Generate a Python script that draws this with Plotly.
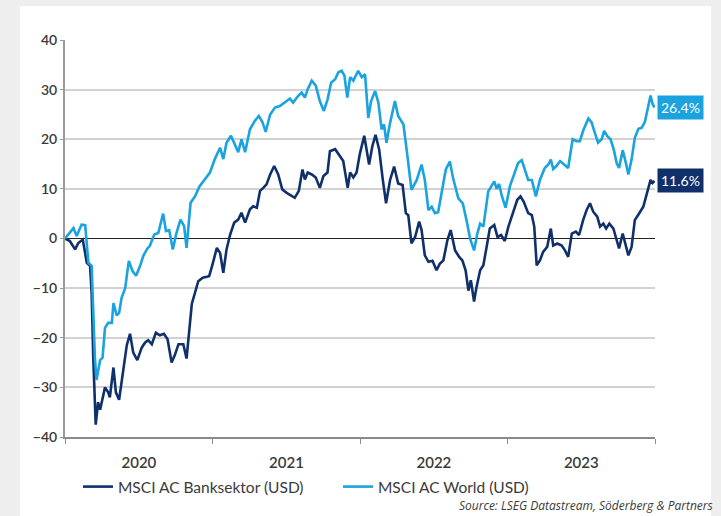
import pandas as pd
import plotly.graph_objects as go

# day offsets from 2020-01-01 and index change in percent
world_days = [0, 8, 21, 29, 41, 50, 58, 66, 74, 78, 87, 93, 99, 107, 116, 120, 128, 134, 140, 149,
              158, 167, 176, 186, 194, 204, 210, 221, 231, 243, 250, 258, 267, 276, 286, 295, 301, 311,
              322, 333, 342, 347, 359, 371, 384, 392, 400, 411, 419, 429, 437, 446, 458, 470, 480, 489,
              497, 508, 520, 532, 549, 557, 565, 576, 586, 594, 601, 611, 621, 631, 641, 650, 659, 669,
              677, 685, 692, 699, 706, 714, 726, 735, 743, 751, 758, 768, 776, 784, 790, 796, 805, 817,
              825, 838, 846, 858, 871, 883, 891, 900, 908, 916, 924, 933, 943, 953, 961, 974, 985, 995,
              1003, 1013, 1021, 1028, 1036, 1048, 1057, 1063, 1069, 1075, 1081, 1091, 1102, 1111, 1122,
              1131, 1139, 1147, 1156, 1166, 1176, 1188, 1197, 1203, 1209, 1217, 1226, 1235, 1246, 1257,
              1267, 1275, 1283, 1296, 1304, 1312, 1320, 1329, 1335, 1343, 1351, 1359, 1366, 1372, 1381,
              1389, 1395, 1403, 1411, 1420, 1428, 1436, 1444, 1450, 1455, 1460]
world_vals = [0, 0.8, 2.1, 0.5, 2.8, 2.7, -4.9, -5.5, -24, -28.5, -24.5, -24, -18, -17, -17, -13, -15.5,
              -15, -12, -10, -4.5, -6.5, -7.5, -5.5, -3.5, -2, -1.5, 0.8, 1.1, 5, 1.5, 1.7, -2.2, 1.1, 3.8,
              2.5, -1.9, 7.2, 8.5, 10.5, 11.5, 12.2, 13.3, 16, 18.3, 16, 19.3, 20.7, 19.3, 17.4, 20, 17.4,
              22, 23.7, 24.7, 23.4, 21.5, 25, 26.4, 26.7, 27.7, 28.2, 27.4, 28.6, 29.4, 28.4, 30.1, 31.8,
              30.8, 27.7, 25.7, 28, 31.4, 32.1, 33.5, 33.8, 32.8, 28.4, 32.5, 31.8, 33.8, 32.5, 33.1, 24.3,
              27.7, 29.7, 27.4, 22, 23, 19.3, 23.3, 27.7, 24.7, 23, 17.9, 9.8, 11.8, 14.9, 11.8, 5.7, 6.4,
              5.1, 5.3, 9.8, 13.9, 15.5, 12.2, 8.1, 7.1, 3.4, 0, -2.4, 1, 3, 2.4, 9.5, 10.8, 11.5, 10, 11,
              8.8, 6.2, 10.6, 12.5, 15.2, 15.8, 13.9, 11.8, 11.8, 8.5, 11.8, 14.2, 14.9, 15.9, 14, 14.6,
              15.6, 14.9, 14.2, 20, 19.6, 19.6, 21.7, 24.2, 23.4, 21.3, 19.3, 20, 21.7, 20.6, 20, 17.9,
              15.2, 14.2, 17.8, 15.2, 12.9, 15.9, 20.3, 22.1, 22.3, 23.5, 26.7, 28.8, 27.1, 26.4]

bank_days = [0, 12, 25, 33, 44, 54, 62, 66, 70, 76, 82, 87, 91, 99, 107, 111, 120, 126, 134, 144, 153,
             161, 169, 179, 190, 198, 206, 215, 225, 235, 245, 254, 264, 272, 281, 293, 301, 314, 322,
             330, 341, 347, 357, 365, 376, 384, 392, 400, 409, 419, 429, 437, 446, 458, 466, 475, 483,
             491, 499, 508, 518, 528, 538, 549, 560, 569, 579, 588, 594, 601, 611, 621, 631, 640, 650,
             656, 669, 678, 689, 700, 706, 714, 722, 730, 741, 753, 761, 769, 778, 787, 795, 805, 815,
             825, 836, 844, 850, 858, 867, 877, 883, 891, 900, 910, 920, 928, 937, 947, 955, 966, 976,
             984, 992, 999, 1005, 1013, 1019, 1028, 1036, 1044, 1052, 1063, 1071, 1080, 1089, 1098, 1110,
             1120, 1128, 1136, 1147, 1156, 1162, 1168, 1176, 1184, 1194, 1203, 1209, 1219, 1230, 1238,
             1246, 1255, 1265, 1273, 1283, 1292, 1300, 1308, 1318, 1325, 1333, 1340, 1348, 1358, 1366,
             1372, 1381, 1389, 1395, 1403, 1411, 1422, 1432, 1441, 1450, 1455, 1460]
bank_vals = [0, -0.5, -2.2, -0.9, -0.2, -4.9, -5.5, -11, -24, -37.5, -33, -34.5, -33, -30, -31, -32, -26,
             -31, -32.5, -26.5, -21.5, -19.2, -23, -24.5, -22, -21, -20.5, -21.3, -19, -19.5, -19.2, -20.3,
             -25, -23.5, -21.3, -21.3, -24.2, -13.2, -11, -8.6, -7.9, -7.8, -7.6, -5.3, -1.9, -2.9, -6.9,
             -2.2, 0.8, 3.2, 3.8, 5.2, 3.2, 5.9, 6.5, 6.2, 9.6, 10.2, 10.9, 12.9, 14.6, 12.9, 9.9, 9.2, 8.6,
             8.2, 9.6, 13.9, 11.9, 13.3, 12.9, 12.3, 10.2, 12.6, 13.3, 17.6, 18, 17, 15.6, 10.2, 13.3, 12.3,
             13.3, 17, 20.7, 14.9, 18.6, 20.9, 17.9, 11.8, 7.1, 11.8, 14.5, 11.1, 10.8, 5.1, 4.7, -1, 0.3,
             3.4, 1.7, -3.4, -4.7, -4.5, -6.4, -5.1, -4.4, -0.3, 1.7, -2.4, -3.7, -4.4, -6.4, -10.5, -8.4,
             -12.7, -9.8, -6.4, -5.4, -1.7, 2, 2.7, 0.3, 0.7, -0.5, 2.4, 5.4, 7.8, 8.5, 7.4, 5.1, 4.7, 2.4,
             -5.4, -4.4, -2.7, -1.7, 2, -1.4, -1, -1.4, -2.4, -3.7, 1, 1.4, 0.7, 3.7, 5.8, 7.1, 5.4, 4.4,
             2.4, 3, 2, 3, 2, -0.3, -2, 1, -1.7, -3.4, -1.7, 3.7, 5.1, 6.4, 9.1, 11.8, 11.2, 11.6]

series_names = ["MSCI AC Banksektor (USD)", "MSCI AC World (USD)"]
end_labels = ["11.6%", "26.4%"]
source_text = "Source: LSEG Datastream, Söderberg & Partners"

start = pd.Timestamp("2020-01-01")
world_dates = start + pd.to_timedelta(world_days, unit="D")
bank_dates = start + pd.to_timedelta(bank_days, unit="D")

DARK = "#10306c"
LIGHT = "#1aa3de"
TXT = "#3a3a3a"

fig = go.Figure()
fig.add_trace(go.Scatter(x=bank_dates, y=bank_vals, mode="lines", name=series_names[0],
                         line=dict(color=DARK, width=2.6)))
fig.add_trace(go.Scatter(x=world_dates, y=world_vals, mode="lines", name=series_names[1],
                         line=dict(color=LIGHT, width=2.6)))

# white card on a grey page
fig.add_shape(type="rect", xref="paper", yref="paper", x0=-0.0763, x1=1.0949, y0=-0.2, y1=1.0852,
              fillcolor="white", line=dict(width=0), layer="below")

fig.add_annotation(x=1, xref="paper", y=bank_vals[-1], yref="y", text=end_labels[0], showarrow=False,
                   xanchor="left", yanchor="middle", xshift=2, bgcolor=DARK,
                   font=dict(color="white", size=14), borderpad=3)
fig.add_annotation(x=1, xref="paper", y=world_vals[-1], yref="y", text=end_labels[1], showarrow=False,
                   xanchor="left", yanchor="middle", xshift=2, bgcolor=LIGHT,
                   font=dict(color="white", size=14), borderpad=3)
fig.add_annotation(x=1.1017, xref="paper", y=-0.173, yref="paper", text=source_text,
                   showarrow=False, xanchor="right", yanchor="middle",
                   font=dict(family="Open Sans, sans-serif", color=TXT, size=12, style="italic"))

fig.update_layout(
    width=721, height=516,
    margin=dict(l=65, r=66, t=40, b=77),
    paper_bgcolor="#efeeef", plot_bgcolor="white",
    font=dict(family="Lato, Open Sans, sans-serif", color=TXT),
    showlegend=True,
    legend=dict(orientation="h", x=0.022, y=-0.126, xanchor="left", yanchor="middle",
                font=dict(size=15.5, color=TXT), bgcolor="rgba(0,0,0,0)",
                entrywidth=215, tracegroupgap=0),
)
fig.update_yaxes(
    range=[-40, 40], dtick=10, tick0=0,
    showgrid=True, gridcolor="#d2d2d2", gridwidth=1.5,
    zeroline=True, zerolinecolor="#222222", zerolinewidth=1,
    showline=True, linecolor="#9a9a9a", linewidth=2,
    ticks="outside", ticklen=3, tickcolor="#9a9a9a",
    tickfont=dict(size=14, color=TXT, weight=600), fixedrange=True,
)
fig.update_xaxes(
    range=["2020-01-01", "2024-01-01"],
    tick0="2020-01-01", dtick="M12", tickformat="%Y", ticklabelmode="period",
    showgrid=False, zeroline=False,
    showline=True, linecolor="#8a8a8a", linewidth=2,
    ticks="outside", ticklen=5, tickcolor="#8a8a8a",
    tickfont=dict(size=15, color=TXT, weight=600), ticklabelstandoff=6,
)

fig.write_html("out.html", config={"displayModeBar": False},
               post_script="document.body.style.margin='0';")
